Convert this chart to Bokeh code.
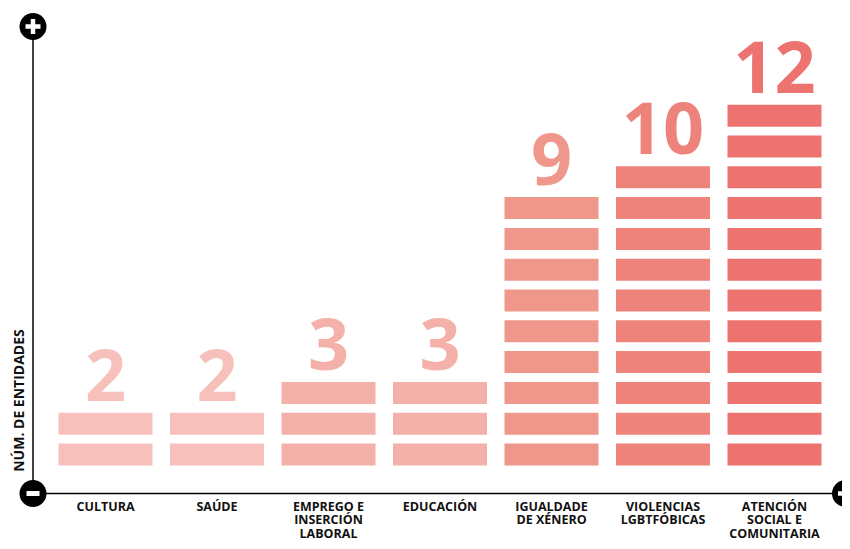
from bokeh.plotting import figure
from bokeh.models import Range1d, ColumnDataSource
from bokeh.core.properties import value
from bokeh.embed import file_html
from bokeh.resources import INLINE
import math

categories = ["CULTURA", "SAÚDE", "EMPREGO E\nINSERCIÓN\nLABORAL", "EDUCACIÓN",
              "IGUALDADE\nDE XÉNERO", "VIOLENCIAS\nLGBTFÓBICAS", "ATENCIÓN\nSOCIAL E\nCOMUNITARIA"]
values = [2, 2, 3, 3, 9, 10, 12]
colors = ["#F7C0BA", "#F7C0BA", "#F4B1A9", "#F4B1A9", "#F0978B", "#EE837B", "#EC736F"]
y_title = "NÚM. DE ENTIDADES"

W, H = 842, 541
XS = 111.5   # px per category
YS = 30.8    # px per unit
x0 = -105 / XS
y0 = -76 / YS
BAR_H = 22 / YS
BAR_W = 94 / XS

p = figure(width=W, height=H, x_range=Range1d(x0, x0 + W / XS), y_range=Range1d(y0, y0 + H / YS),
           output_backend="svg", toolbar_location=None, min_border=0, outline_line_color=None)
p.xaxis.visible = False
p.yaxis.visible = False
p.xgrid.visible = False
p.ygrid.visible = False
p.background_fill_color = "white"

# stacked unit bars
left, right, bottom, top, fill = [], [], [], [], []
for i, (v, c) in enumerate(zip(values, colors)):
    for k in range(v):
        left.append(i - BAR_W / 2)
        right.append(i + BAR_W / 2)
        bottom.append(k)
        top.append(k + BAR_H)
        fill.append(c)
p.quad(left="left", right="right", bottom="bottom", top="top", fill_color="fill", line_color=None,
       source=ColumnDataSource(dict(left=left, right=right, bottom=bottom, top=top, fill=fill)))

# value labels
idx = list(range(len(categories)))
p.text(x=idx, y=[v - 1 + BAR_H + 38 / YS for v in values], text=[str(v) for v in values],
       text_color=colors, text_font=value("Open Sans"), text_font_style="bold",
       text_font_size="72px", text_align="center", text_baseline="alphabetic")

# category labels
p.text(x=idx, y=[(44 - 76) / YS] * len(idx), text=categories,
       text_color="#111111", text_font=value("Open Sans"), text_font_style="bold",
       text_font_size="12.5px", text_align="center", text_baseline="top", text_line_height=0.8)

# axes decorations
ox = x0 + 32.5 / XS
oy = (48 - 76) / YS
ytop = (515 - 76) / YS
xright = x0 + 845 / XS
p.segment(x0=[ox, ox], y0=[oy, oy], x1=[ox, xright], y1=[ytop, oy], line_color="black", line_width=1.5)
p.scatter(x=[ox, ox, xright], y=[ytop, oy, oy], marker="circle", size=27, fill_color="black", line_color=None)
p.scatter(x=[ox, xright], y=[ytop, oy], marker="cross", size=15, line_color="white", line_width=4.5)
p.scatter(x=[ox], y=[oy], marker="dash", size=13, line_color="white", line_width=5)

# y title
p.text(x=[x0 + 18 / XS], y=[(141 - 76) / YS], text=[y_title], angle=math.pi / 2,
       text_color="#111111", text_font=value("Open Sans"), text_font_style="bold",
       text_font_size="14px", text_align="center", text_baseline="middle")

open("out.html", "w").write(file_html(p, INLINE))
